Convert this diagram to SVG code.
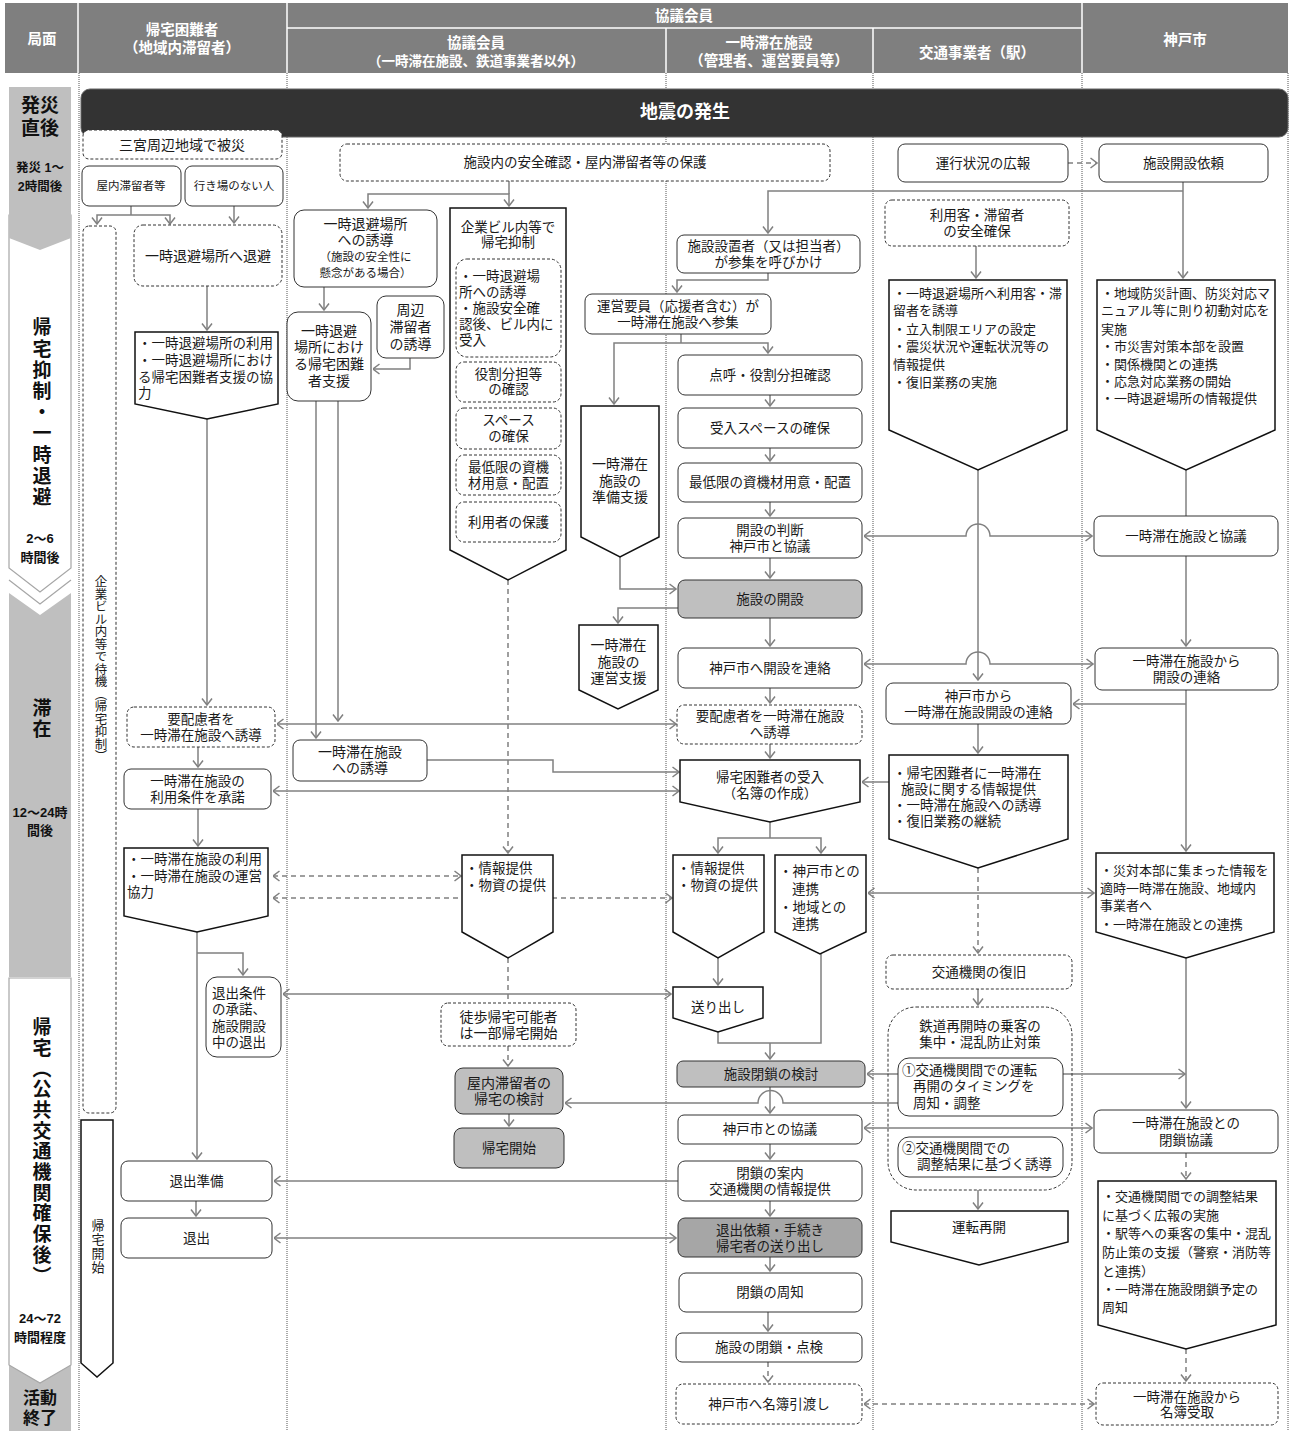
<svg xmlns="http://www.w3.org/2000/svg" width="1291" height="1431" viewBox="0 0 1291 1431">
<defs>
<style>
.t{font-family:"Liberation Sans","Noto Sans CJK JP","Noto Sans CJK SC",sans-serif;font-size:13.5px;fill:#1a1a1a;text-anchor:middle;dominant-baseline:central}
.l{text-anchor:start}
.s{font-size:11.5px}
.m{font-size:14px}
.k{font-size:13px}
.h{fill:#fff;font-weight:bold;font-size:14.5px}
.p{font-weight:bold;fill:#111}
.v{writing-mode:vertical-rl}
.box{fill:#fff;stroke:#333;stroke-width:1}
.dbox{fill:#fff;stroke:#333;stroke-width:1;stroke-dasharray:3 2}
.gbox{fill:#bfbfbf;stroke:#333;stroke-width:1}
.g2{fill:#a6a6a6;stroke:#333;stroke-width:1}
.pent{fill:#fff;stroke:#111;stroke-width:1.5}
.c{fill:none;stroke:#808080;stroke-width:1.5}
.d{stroke-dasharray:5 4}
.lane{stroke:#555;stroke-width:1;stroke-dasharray:1 1}
.wl{stroke:#fff;stroke-width:1.5}
</style>
<marker id="a" viewBox="0 0 8 12" refX="7.5" refY="6" markerWidth="8" markerHeight="12" markerUnits="userSpaceOnUse" orient="auto-start-reverse"><path d="M1,1 L7.5,6 L1,11" fill="none" stroke="#808080" stroke-width="1.5"/></marker>
</defs>
<rect width="1291" height="1431" fill="#fff"/>

<g id="header">
<rect x="5" y="3" width="1283" height="70" fill="#7f7f7f"/>
<line class="wl" x1="78" y1="3" x2="78" y2="73"/>
<line class="wl" x1="287" y1="3" x2="287" y2="73"/>
<line class="wl" x1="1082" y1="3" x2="1082" y2="73"/>
<line class="wl" x1="287" y1="28" x2="1082" y2="28"/>
<line class="wl" x1="666" y1="28" x2="666" y2="73"/>
<line class="wl" x1="873" y1="28" x2="873" y2="73"/>
<text class="t h" x="42" y="39">局面</text>
<text class="t h"><tspan x="182" y="30">帰宅困難者</tspan><tspan x="182" y="48">（地域内滞留者）</tspan></text>
<text class="t h" x="684" y="16">協議会員</text>
<text class="t h"><tspan x="476" y="43">協議会員</tspan><tspan x="476" y="61" style="font-size:13.5px">（一時滞在施設、鉄道事業者以外）</tspan></text>
<text class="t h"><tspan x="769" y="43">一時滞在施設</tspan><tspan x="769" y="61">（管理者、運営要員等）</tspan></text>
<text class="t h" x="977" y="53">交通事業者（駅）</text>
<text class="t h" x="1185" y="40">神戸市</text>
</g>

<g id="lanes">
<line class="lane" x1="79" y1="73" x2="79" y2="1431"/>
<line class="lane" x1="287" y1="73" x2="287" y2="1431"/>
<line class="lane" x1="666" y1="73" x2="666" y2="1431"/>
<line class="lane" x1="873" y1="73" x2="873" y2="1431"/>
<line class="lane" x1="1082" y1="73" x2="1082" y2="1431"/>
<line class="lane" x1="1288" y1="73" x2="1288" y2="1431"/>
</g>

<g id="phases">
<polygon points="9,215 71,215 71,568 40,592 9,568" fill="#fff" stroke="#a6a6a6" stroke-width="1.2"/>
<polygon points="9,87 71,87 71,238 40,250 9,238" fill="#bfbfbf"/>
<polygon points="9,593 40,615 71,593 71,977 9,977" fill="#bfbfbf"/>
<polyline points="9,580 40,604 71,580" fill="none" stroke="#a6a6a6" stroke-width="1.2"/>
<rect x="9" y="1360" width="62" height="71" fill="#bfbfbf"/>
<polygon points="9,978 71,978 71,1365 40,1383 9,1365" fill="#fff" stroke="#a6a6a6" stroke-width="1.2"/>
<text class="t p" style="font-size:19px"><tspan x="40" y="105">発災</tspan><tspan x="40" y="128">直後</tspan></text>
<text class="t p" style="font-size:12.5px"><tspan x="40" y="168">発災 1～</tspan><tspan x="40" y="187">2時間後</tspan></text>
<text class="t p v" x="40" y="413" style="font-size:19px;letter-spacing:2.2px">帰宅抑制・一時退避</text>
<text class="t p" style="font-size:13px"><tspan x="40" y="538">2～6</tspan><tspan x="40" y="557">時間後</tspan></text>
<text class="t p v" x="40" y="719" style="font-size:19px;letter-spacing:2px">滞在</text>
<text class="t p" style="font-size:13px"><tspan x="40" y="812">12～24時</tspan><tspan x="40" y="830">間後</tspan></text>
<text class="t p v" x="40" y="1152" style="font-size:19px;letter-spacing:1.7px">帰宅（公共交通機関確保後）</text>
<text class="t p" style="font-size:13px"><tspan x="40" y="1318">24～72</tspan><tspan x="40" y="1337">時間程度</tspan></text>
<text class="t p" style="font-size:17px"><tspan x="40" y="1398">活動</tspan><tspan x="40" y="1418">終了</tspan></text>
</g>

<g id="connectors">
<path class="c" d="M131,206 V215"/>
<path class="c" d="M97,224 V215 H170 V224" marker-start="url(#a)" marker-end="url(#a)"/>
<path class="c" d="M234,206 V223" marker-end="url(#a)"/>
<path class="c" d="M207,286 V330" marker-end="url(#a)"/>
<path class="c" d="M207,419 V705" marker-end="url(#a)"/>
<path class="c" d="M198,747 V767" marker-end="url(#a)"/>
<path class="c" d="M198,809 V846" marker-end="url(#a)"/>
<path class="c" d="M197,932 V1159" marker-end="url(#a)"/>
<path class="c" d="M197,953 H243 V975" marker-end="url(#a)"/>
<path class="c" d="M196,1201 V1216" marker-end="url(#a)"/>
<path class="c" d="M509,181 V194"/>
<path class="c" d="M368,208 V194 H509 V206" marker-start="url(#a)" marker-end="url(#a)"/>
<path class="c" d="M324,287 V310" marker-end="url(#a)"/>
<path class="c" d="M410,358 V369 H373" marker-end="url(#a)"/>
<path class="c" d="M316,401 V738" marker-end="url(#a)"/>
<path class="c" d="M338,401 V721" marker-end="url(#a)"/>
<path class="c" d="M277,724 H676" marker-start="url(#a)" marker-end="url(#a)"/>
<path class="c" d="M427,760 H553 V772 H679" marker-end="url(#a)"/>
<path class="c" d="M273,791 H679" marker-start="url(#a)" marker-end="url(#a)"/>
<path class="c d" d="M508,580 V853" marker-end="url(#a)"/>
<path class="c d" d="M273,876 H461" marker-start="url(#a)" marker-end="url(#a)"/>
<path class="c d" d="M273,898 H672" marker-start="url(#a)" marker-end="url(#a)"/>
<path class="c d" d="M508,958 V1003"/>
<path class="c" d="M283,994 H671" marker-start="url(#a)" marker-end="url(#a)"/>
<path class="c d" d="M508,1046 V1066" marker-end="url(#a)"/>
<path class="c" d="M509,1114 V1126" marker-end="url(#a)"/>
<path class="c" d="M898,1103 H783 A12.5,12.5 0 0 0 758,1103 H565" marker-end="url(#a)"/>
<path class="c" d="M898,1074 H867" marker-end="url(#a)"/>
<path class="c" d="M1183,182 V278" marker-end="url(#a)"/>
<path class="c" d="M1183,191 H768 V233" marker-end="url(#a)"/>
<path class="c d" d="M1068,163 H1097" marker-end="url(#a)"/>
<path class="c" d="M976,246 V278" marker-end="url(#a)"/>
<path class="c" d="M768,273 V280 H677 V292" marker-end="url(#a)"/>
<path class="c" d="M681,334 V343"/>
<path class="c" d="M614,404 V343 H768 V353" marker-start="url(#a)" marker-end="url(#a)"/>
<path class="c" d="M620,557 V589 H676" marker-end="url(#a)"/>
<path class="c" d="M678,608 H618 V623" marker-end="url(#a)"/>
<path class="c" d="M770,395 V406" marker-end="url(#a)"/>
<path class="c" d="M770,448 V461" marker-end="url(#a)"/>
<path class="c" d="M770,502 V516" marker-end="url(#a)"/>
<path class="c" d="M770,558 V578" marker-end="url(#a)"/>
<path class="c" d="M770,618 V646" marker-end="url(#a)"/>
<path class="c" d="M770,688 V703" marker-end="url(#a)"/>
<path class="c" d="M770,744 V758" marker-end="url(#a)"/>
<path class="c" d="M770,822 V838"/>
<path class="c" d="M718,853 V838 H821 V853" marker-start="url(#a)" marker-end="url(#a)"/>
<path class="c" d="M718,958 V985" marker-end="url(#a)"/>
<path class="c" d="M718,1032 V1043 H821 V954"/>
<path class="c" d="M770,1043 V1059" marker-end="url(#a)"/>
<path class="c" d="M770,1087 V1113" marker-end="url(#a)"/>
<path class="c" d="M770,1144 V1159" marker-end="url(#a)"/>
<path class="c" d="M770,1201 V1216" marker-end="url(#a)"/>
<path class="c" d="M770,1257 V1271" marker-end="url(#a)"/>
<path class="c" d="M768,1312 V1331" marker-end="url(#a)"/>
<path class="c d" d="M768,1362 V1382" marker-end="url(#a)"/>
<path class="c" d="M678,1181 H274" marker-end="url(#a)"/>
<path class="c" d="M274,1238 H676" marker-start="url(#a)" marker-end="url(#a)"/>
<path class="c d" d="M864,1404 H1094" marker-start="url(#a)" marker-end="url(#a)"/>
<path class="c" d="M864,536 H966 A12,12 0 0 1 990,536 H1092" marker-start="url(#a)" marker-end="url(#a)"/>
<path class="c" d="M864,664 H966 A12,12 0 0 1 990,664 H1093" marker-start="url(#a)" marker-end="url(#a)"/>
<path class="c" d="M978,470 V680" marker-end="url(#a)"/>
<path class="c" d="M1186,470 V516"/>
<path class="c" d="M1186,556 V646" marker-end="url(#a)"/>
<path class="c" d="M1186,690 V851" marker-end="url(#a)"/>
<path class="c" d="M1186,704 H1073" marker-end="url(#a)"/>
<path class="c" d="M978,724 V753" marker-end="url(#a)"/>
<path class="c" d="M889,782 H862" marker-end="url(#a)"/>
<path class="c d" d="M978,868 V953" marker-end="url(#a)"/>
<path class="c" d="M978,989 V1005" marker-end="url(#a)"/>
<path class="c" d="M1063,1074 H1185" marker-end="url(#a)"/>
<path class="c" d="M1186,958 V1108" marker-end="url(#a)"/>
<path class="c" d="M864,1128 H1092" marker-start="url(#a)" marker-end="url(#a)"/>
<path class="c d" d="M1186,1153 V1179" marker-end="url(#a)"/>
<path class="c d" d="M1186,1349 V1381" marker-end="url(#a)"/>
<path class="c" d="M978,1190 V1209" marker-end="url(#a)"/>
<path class="c" d="M868,893 H1094" marker-start="url(#a)" marker-end="url(#a)"/>
</g>

<g id="n_jishin"><rect x="81" y="89" width="1207" height="48" rx="9" fill="#333" stroke="#666"/><text class="t" x="685" y="112" style="fill:#fff;font-weight:bold;font-size:18px">地震の発生</text></g>

<g id="n_sannomiya"><rect class="dbox" x="83" y="130" width="199" height="29" rx="6"/><text class="t m" x="182" y="144.5">三宮周辺地域で被災</text></g>
<g id="n_okunai"><rect class="box" x="82" y="166" width="99" height="40" rx="7"/><text class="t s" x="131" y="186">屋内滞留者等</text></g>
<g id="n_ikiba"><rect class="box" x="185" y="166" width="98" height="40" rx="7"/><text class="t s" x="234" y="186">行き場のない人</text></g>
<g id="n_kigyo_wait"><rect class="dbox" x="83" y="226" width="33" height="887" rx="6"/><text class="t v" x="99.5" y="669" style="font-size:12.5px">企業ビル内等で待機（帰宅抑制）</text></g>
<g id="n_taihi"><rect class="dbox" x="134" y="225" width="148" height="61" rx="9"/><text class="t m" x="208" y="256">一時退避場所へ退避</text></g>
<g id="n_riyou"><polygon class="pent" points="135,332 278,332 278,404 207,419 135,404"/>
<text class="t l"><tspan x="138" y="343">・一時退避場所の利用</tspan><tspan x="138" y="360">・一時退避場所におけ</tspan><tspan x="138" y="377">る帰宅困難者支援の協</tspan><tspan x="138" y="393">力</tspan></text></g>
<g id="n_youhairyo_l"><rect class="dbox" x="127" y="707" width="148" height="40" rx="7"/><text class="t"><tspan x="201" y="719">要配慮者を</tspan><tspan x="201" y="735">一時滞在施設へ誘導</tspan></text></g>
<g id="n_shodaku"><rect class="box" x="124" y="769" width="147" height="40" rx="7"/><text class="t"><tspan x="197.5" y="781">一時滞在施設の</tspan><tspan x="197.5" y="797">利用条件を承諾</tspan></text></g>
<g id="n_riyou2"><polygon class="pent" points="124,848 268,848 268,916 197,932 124,916"/>
<text class="t l"><tspan x="127" y="859">・一時滞在施設の利用</tspan><tspan x="127" y="876">・一時滞在施設の運営</tspan><tspan x="127" y="892">協力</tspan></text></g>
<g id="n_taishutsu_jouken"><rect class="box" x="206" y="977" width="75" height="80" rx="11"/>
<text class="t l"><tspan x="212" y="993">退出条件</tspan><tspan x="212" y="1009">の承諾、</tspan><tspan x="212" y="1026">施設開設</tspan><tspan x="212" y="1042">中の退出</tspan></text></g>
<g id="n_junbi"><rect class="box" x="121" y="1161" width="151" height="40" rx="7"/><text class="t" x="196.5" y="1181">退出準備</text></g>
<g id="n_taishutsu"><rect class="box" x="121" y="1218" width="151" height="40" rx="7"/><text class="t" x="196.5" y="1238">退出</text></g>
<g id="n_kitaku_l"><polygon class="pent" points="81,1120 113,1120 113,1363 97,1377 81,1363"/><text class="t v" x="97" y="1247" style="font-size:13px;letter-spacing:1px">帰宅開始</text></g>

<g id="n_anzen"><rect class="dbox" x="340" y="144" width="490" height="37" rx="7"/><text class="t" x="585" y="162.5">施設内の安全確認・屋内滞留者等の保護</text></g>
<g id="n_yudou1"><rect class="box" x="294" y="210" width="143" height="77" rx="10"/>
<text class="t m"><tspan x="365.5" y="224">一時退避場所</tspan><tspan x="365.5" y="240">への誘導</tspan><tspan x="365.5" y="257" style="font-size:11.5px">（施設の安全性に</tspan><tspan x="365.5" y="273" style="font-size:11.5px">懸念がある場合）</tspan></text></g>
<g id="n_shien"><rect class="box" x="287" y="312" width="84" height="89" rx="11"/>
<text class="t m"><tspan x="329" y="331">一時退避</tspan><tspan x="329" y="347">場所におけ</tspan><tspan x="329" y="364">る帰宅困難</tspan><tspan x="329" y="381">者支援</tspan></text></g>
<g id="n_shuhen"><rect class="box" x="377" y="296" width="67" height="62" rx="9"/>
<text class="t m"><tspan x="410.5" y="310">周辺</tspan><tspan x="410.5" y="327">滞留者</tspan><tspan x="410.5" y="344">の誘導</tspan></text></g>
<g id="n_kigyo"><polygon class="pent" points="450,208 566,208 566,550 508,580 450,550"/>
<text class="t"><tspan x="508" y="227">企業ビル内等で</tspan><tspan x="508" y="242">帰宅抑制</tspan></text>
<rect class="dbox" x="456" y="259" width="105" height="98" rx="11"/>
<text class="t l"><tspan x="459" y="276">・一時退避場</tspan><tspan x="459" y="292">所への誘導</tspan><tspan x="459" y="308">・施設安全確</tspan><tspan x="459" y="324">認後、ビル内に</tspan><tspan x="459" y="340">受入</tspan></text>
<rect class="dbox" x="456" y="362" width="105" height="40" rx="8"/><text class="t"><tspan x="508.5" y="374">役割分担等</tspan><tspan x="508.5" y="389">の確認</tspan></text>
<rect class="dbox" x="456" y="408" width="105" height="41" rx="8"/><text class="t"><tspan x="508.5" y="420">スペース</tspan><tspan x="508.5" y="436">の確保</tspan></text>
<rect class="dbox" x="456" y="455" width="105" height="40" rx="8"/><text class="t"><tspan x="508.5" y="467">最低限の資機</tspan><tspan x="508.5" y="483">材用意・配置</tspan></text>
<rect class="dbox" x="456" y="502" width="105" height="40" rx="8"/><text class="t" x="508.5" y="522">利用者の保護</text></g>
<g id="n_yudou2"><rect class="box" x="293" y="740" width="134" height="41" rx="7"/><text class="t m"><tspan x="360" y="752">一時滞在施設</tspan><tspan x="360" y="768">への誘導</tspan></text></g>
<g id="n_info_k"><polygon class="pent" points="462,855 553,855 553,932 508,958 462,932"/><text class="t l"><tspan x="465" y="868">・情報提供</tspan><tspan x="465" y="885">・物資の提供</tspan></text></g>
<g id="n_toho"><rect class="dbox" x="441" y="1003" width="135" height="43" rx="7"/><text class="t m"><tspan x="508.5" y="1017">徒歩帰宅可能者</tspan><tspan x="508.5" y="1033">は一部帰宅開始</tspan></text></g>
<g id="n_okunai_kentou"><rect class="gbox" x="455" y="1068" width="108" height="46" rx="8"/><text class="t m"><tspan x="509" y="1083">屋内滞留者の</tspan><tspan x="509" y="1099">帰宅の検討</tspan></text></g>
<g id="n_kitaku_start"><rect class="gbox" x="454" y="1128" width="110" height="40" rx="8"/><text class="t" x="509" y="1148">帰宅開始</text></g>
<g id="n_junbi_shien"><polygon class="pent" points="581,406 659,406 659,537 620,557 581,537"/><text class="t m"><tspan x="620" y="464">一時滞在</tspan><tspan x="620" y="481">施設の</tspan><tspan x="620" y="497">準備支援</tspan></text></g>
<g id="n_unei_shien"><polygon class="pent" points="579,625 658,625 658,690 618,709 579,690"/><text class="t m"><tspan x="618.5" y="645">一時滞在</tspan><tspan x="618.5" y="662">施設の</tspan><tspan x="618.5" y="678">運営支援</tspan></text></g>
<g id="n_sanshu"><rect class="box" x="585" y="294" width="186" height="40" rx="7"/><text class="t"><tspan x="678" y="306">運営要員（応援者含む）が</tspan><tspan x="678" y="322">一時滞在施設へ参集</tspan></text></g>

<g id="n_yobikake"><rect class="box" x="677" y="235" width="183" height="38" rx="7"/><text class="t"><tspan x="768.5" y="246">施設設置者（又は担当者）</tspan><tspan x="768.5" y="262">が参集を呼びかけ</tspan></text></g>
<g id="n_tenko"><rect class="box" x="678" y="355" width="184" height="40" rx="7"/><text class="t" x="770" y="375">点呼・役割分担確認</text></g>
<g id="n_space"><rect class="box" x="678" y="408" width="184" height="40" rx="7"/><text class="t" x="770" y="428">受入スペースの確保</text></g>
<g id="n_shikizai"><rect class="box" x="678" y="463" width="184" height="39" rx="7"/><text class="t" x="770" y="482.5">最低限の資機材用意・配置</text></g>
<g id="n_handan"><rect class="box" x="678" y="518" width="184" height="40" rx="7"/><text class="t"><tspan x="770" y="530">開設の判断</tspan><tspan x="770" y="546">神戸市と協議</tspan></text></g>
<g id="n_kaisetsu"><rect class="gbox" x="678" y="580" width="184" height="38" rx="7"/><text class="t" x="770" y="599">施設の開設</text></g>
<g id="n_renraku"><rect class="box" x="678" y="648" width="184" height="40" rx="7"/><text class="t" x="770" y="668">神戸市へ開設を連絡</text></g>
<g id="n_youhairyo_c"><rect class="dbox" x="677" y="705" width="185" height="39" rx="7"/><text class="t"><tspan x="770" y="716">要配慮者を一時滞在施設</tspan><tspan x="770" y="732">へ誘導</tspan></text></g>
<g id="n_ukeire"><polygon class="pent" points="680,760 860,760 860,802 770,822 680,802"/><text class="t"><tspan x="770" y="777">帰宅困難者の受入</tspan><tspan x="770" y="793">（名簿の作成）</tspan></text></g>
<g id="n_info_c"><polygon class="pent" points="673,855 764,855 764,932 718,958 673,932"/><text class="t l"><tspan x="677" y="868">・情報提供</tspan><tspan x="677" y="885">・物資の提供</tspan></text></g>
<g id="n_renkei"><polygon class="pent" points="775,855 866,855 866,932 820,954 775,932"/><text class="t l"><tspan x="779" y="871">・神戸市との</tspan><tspan x="792" y="889">連携</tspan><tspan x="779" y="907">・地域との</tspan><tspan x="792" y="924">連携</tspan></text></g>
<g id="n_okuridashi"><polygon class="pent" points="673,987 763,987 763,1018 718,1032 673,1018"/><text class="t" x="718" y="1007">送り出し</text></g>
<g id="n_heisa_kentou"><rect class="gbox" x="677" y="1061" width="188" height="26" rx="6"/><text class="t" x="771" y="1074">施設閉鎖の検討</text></g>
<g id="n_kyougi"><rect class="box" x="678" y="1115" width="184" height="29" rx="6"/><text class="t" x="770" y="1129.5">神戸市との協議</text></g>
<g id="n_annai"><rect class="box" x="678" y="1161" width="184" height="40" rx="7"/><text class="t"><tspan x="770" y="1173">閉鎖の案内</tspan><tspan x="770" y="1189">交通機関の情報提供</tspan></text></g>
<g id="n_irai"><rect class="g2" x="678" y="1218" width="184" height="39" rx="7"/><text class="t"><tspan x="770" y="1230">退出依頼・手続き</tspan><tspan x="770" y="1246">帰宅者の送り出し</tspan></text></g>
<g id="n_shuchi"><rect class="box" x="679" y="1273" width="183" height="39" rx="7"/><text class="t" x="770" y="1292.5">閉鎖の周知</text></g>
<g id="n_tenken"><rect class="box" x="676" y="1333" width="186" height="29" rx="6"/><text class="t" x="769" y="1347.5">施設の閉鎖・点検</text></g>
<g id="n_meibo"><rect class="dbox" x="676" y="1384" width="186" height="40" rx="7"/><text class="t" x="769" y="1404">神戸市へ名簿引渡し</text></g>

<g id="n_unkou"><rect class="box" x="898" y="144" width="170" height="38" rx="7"/><text class="t" x="983" y="163">運行状況の広報</text></g>
<g id="n_anzen_k"><rect class="dbox" x="885" y="200" width="184" height="46" rx="7"/><text class="t"><tspan x="977" y="215">利用客・滞留者</tspan><tspan x="977" y="231">の安全確保</tspan></text></g>
<g id="n_kotsu1"><polygon class="pent" points="889,280 1067,280 1067,430 978,470 889,430"/>
<text class="t k l"><tspan x="893" y="293">・一時退避場所へ利用客・滞</tspan><tspan x="893" y="310">留者を誘導</tspan><tspan x="893" y="329">・立入制限エリアの設定</tspan><tspan x="893" y="346">・震災状況や運転状況等の</tspan><tspan x="893" y="364">情報提供</tspan><tspan x="893" y="382">・復旧業務の実施</tspan></text></g>
<g id="n_kara"><rect class="box" x="886" y="683" width="185" height="41" rx="7"/><text class="t"><tspan x="978.5" y="696">神戸市から</tspan><tspan x="978.5" y="712">一時滞在施設開設の連絡</tspan></text></g>
<g id="n_kotsu2"><polygon class="pent" points="889,755 1068,755 1068,839 978,868 889,839"/>
<text class="t l"><tspan x="893" y="773">・帰宅困難者に一時滞在</tspan><tspan x="901" y="789">施設に関する情報提供</tspan><tspan x="893" y="805">・一時滞在施設への誘導</tspan><tspan x="893" y="821">・復旧業務の継続</tspan></text></g>
<g id="n_fukkyu"><rect class="dbox" x="886" y="955" width="186" height="34" rx="7"/><text class="t" x="979" y="972">交通機関の復旧</text></g>
<g id="n_tetsudo"><rect x="888" y="1007" width="184" height="183" rx="28" fill="none" stroke="#333" stroke-dasharray="3 2"/><text class="t"><tspan x="980" y="1026">鉄道再開時の乗客の</tspan><tspan x="980" y="1042">集中・混乱防止対策</tspan></text></g>
<g id="n_one"><rect class="box" x="898" y="1058" width="165" height="58" rx="11"/><text class="t l"><tspan x="902" y="1070">①交通機関間での運転</tspan><tspan x="913" y="1086">再開のタイミングを</tspan><tspan x="913" y="1103">周知・調整</tspan></text></g>
<g id="n_two"><rect class="box" x="898" y="1137" width="165" height="40" rx="11"/><text class="t l"><tspan x="902" y="1148">②交通機関間での</tspan><tspan x="917" y="1164">調整結果に基づく誘導</tspan></text></g>
<g id="n_unten"><polygon class="pent" points="891,1211 1068,1211 1068,1242 979,1265 891,1242"/><text class="t" x="979" y="1227">運転再開</text></g>

<g id="n_irai_k"><rect class="box" x="1099" y="144" width="169" height="38" rx="7"/><text class="t" x="1183.5" y="163">施設開設依頼</text></g>
<g id="n_kobe1"><polygon class="pent" points="1097,280 1275,280 1275,430 1186,470 1097,430"/>
<text class="t k l"><tspan x="1101" y="293">・地域防災計画、防災対応マ</tspan><tspan x="1101" y="310">ニュアル等に則り初動対応を</tspan><tspan x="1101" y="329">実施</tspan><tspan x="1101" y="346">・市災害対策本部を設置</tspan><tspan x="1101" y="364">・関係機関との連携</tspan><tspan x="1101" y="381">・応急対応業務の開始</tspan><tspan x="1101" y="398">・一時退避場所の情報提供</tspan></text></g>
<g id="n_kyougi_k"><rect class="box" x="1094" y="516" width="184" height="40" rx="7"/><text class="t" x="1186" y="536">一時滞在施設と協議</text></g>
<g id="n_kara_k"><rect class="box" x="1095" y="648" width="183" height="42" rx="7"/><text class="t"><tspan x="1186.5" y="661">一時滞在施設から</tspan><tspan x="1186.5" y="677">開設の連絡</tspan></text></g>
<g id="n_kobe2"><polygon class="pent" points="1096,853 1274,853 1274,932 1186,958 1096,932"/>
<text class="t k l"><tspan x="1100" y="870">・災対本部に集まった情報を</tspan><tspan x="1100" y="888">適時一時滞在施設、地域内</tspan><tspan x="1100" y="905">事業者へ</tspan><tspan x="1100" y="924">・一時滞在施設との連携</tspan></text></g>
<g id="n_heisa_k"><rect class="box" x="1094" y="1110" width="184" height="43" rx="7"/><text class="t"><tspan x="1186" y="1123">一時滞在施設との</tspan><tspan x="1186" y="1140">閉鎖協議</tspan></text></g>
<g id="n_kobe3"><polygon class="pent" points="1098,1181 1276,1181 1276,1325 1186,1349 1098,1325"/>
<text class="t k l"><tspan x="1102" y="1196">・交通機関間での調整結果</tspan><tspan x="1102" y="1215">に基づく広報の実施</tspan><tspan x="1102" y="1233">・駅等への乗客の集中・混乱</tspan><tspan x="1102" y="1252">防止策の支援（警察・消防等</tspan><tspan x="1102" y="1271">と連携）</tspan><tspan x="1102" y="1289">・一時滞在施設閉鎖予定の</tspan><tspan x="1102" y="1307">周知</tspan></text></g>
<g id="n_juryo"><rect class="dbox" x="1096" y="1383" width="182" height="42" rx="7"/><text class="t"><tspan x="1187" y="1397">一時滞在施設から</tspan><tspan x="1187" y="1412">名簿受取</tspan></text></g>
</svg>
